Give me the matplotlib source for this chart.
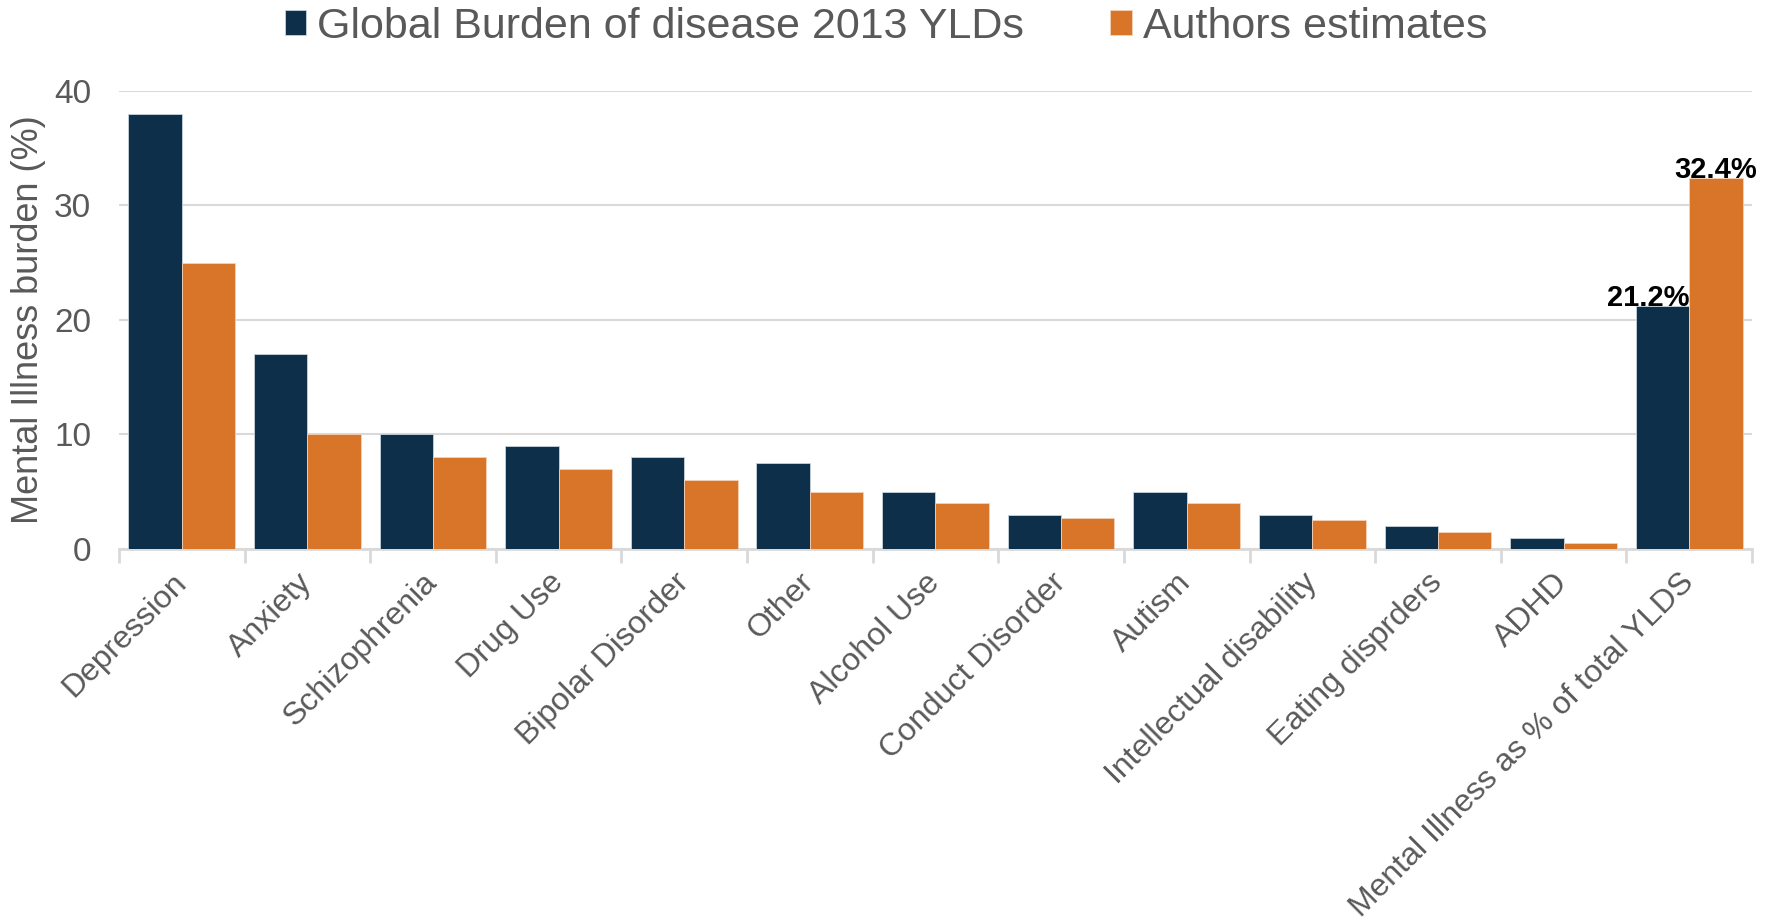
import matplotlib
matplotlib.use("Agg")
import matplotlib.pyplot as plt
import numpy as np

plt.rcParams['font.family'] = ['Liberation Sans', 'DejaVu Sans']

categorias = ["Depression", "Anxiety", "Schizophrenia", "Drug Use", "Bipolar Disorder",
              "Other", "Alcohol Use", "Conduct Disorder", "Autism", "Intellectual disability",
              "Eating disprders", "ADHD", "Mental Illness as % of total YLDS"]
gbd = [38, 17, 10, 9, 8, 7.5, 5, 3, 5, 3, 2, 1, 21.2]
autores = [25, 10, 8, 7, 6, 5, 4, 2.7, 4, 2.5, 1.5, 0.5, 32.4]
serie_nomes = ["Global Burden of disease 2013 YLDs", "Authors estimates"]

azul = '#0d2f4a'
laranja = '#d97528'
cinza = '#595959'
grade = '#d9d9d9'

fig = plt.figure(figsize=(17.79, 9.22), dpi=100)
ax = fig.add_axes([0.0669, 0.4046, 0.9179, 0.497])

x = np.arange(len(categorias))
largura = 0.425
b1 = ax.bar(x - largura / 2, gbd, largura, color=azul, edgecolor='#c8d3dc',
            linewidth=0.6, label=serie_nomes[0], zorder=3)
b2 = ax.bar(x + largura / 2, autores, largura, color=laranja, edgecolor='#f3d2b8',
            linewidth=0.6, label=serie_nomes[1], zorder=3)

ax.set_xlim(-0.5, len(categorias) - 0.5)
ax.set_ylim(0, 40)
ax.set_yticks([0, 10, 20, 30, 40])
ax.yaxis.grid(True, color=grade, linewidth=1.5, zorder=0)
ax.tick_params(axis='y', length=0, pad=20, labelsize=24, labelcolor=cinza)

ax.set_xticks(x)
ax.set_xticklabels(categorias, rotation=45, ha='right', va='center',
                   rotation_mode='anchor', fontsize=23, color=cinza)
ax.tick_params(axis='x', which='major', length=0, pad=21)
ax.set_xticks(np.arange(-0.5, len(categorias)), minor=True)
ax.tick_params(axis='x', which='minor', length=10, width=2, color=grade)

for lado in ['top', 'right', 'left']:
    ax.spines[lado].set_visible(False)
ax.spines['bottom'].set_color(grade)
ax.spines['bottom'].set_linewidth(2)

ax.set_ylabel("Mental Illness burden (%)", fontsize=26, color=cinza, labelpad=6)

# rótulos das barras do total
ultimo = len(categorias) - 1
ax.text(ultimo, gbd[-1], f"{gbd[-1]}%", ha='right', va='baseline',
        fontsize=21, fontweight='bold', color='black', zorder=4)
ax.text(ultimo + largura / 2, autores[-1], f"{autores[-1]}%", ha='center', va='baseline',
        fontsize=21, fontweight='bold', color='black', zorder=4)

fig.legend(handles=[b1, b2], loc='center', bbox_to_anchor=(0.498, 1 - 27 / 922),
           ncol=2, frameon=False, fontsize=31, labelcolor=cinza,
           handlelength=0.5, handleheight=0.5, handletextpad=0.25, columnspacing=2.0)

fig.savefig("out.png", dpi=100)
